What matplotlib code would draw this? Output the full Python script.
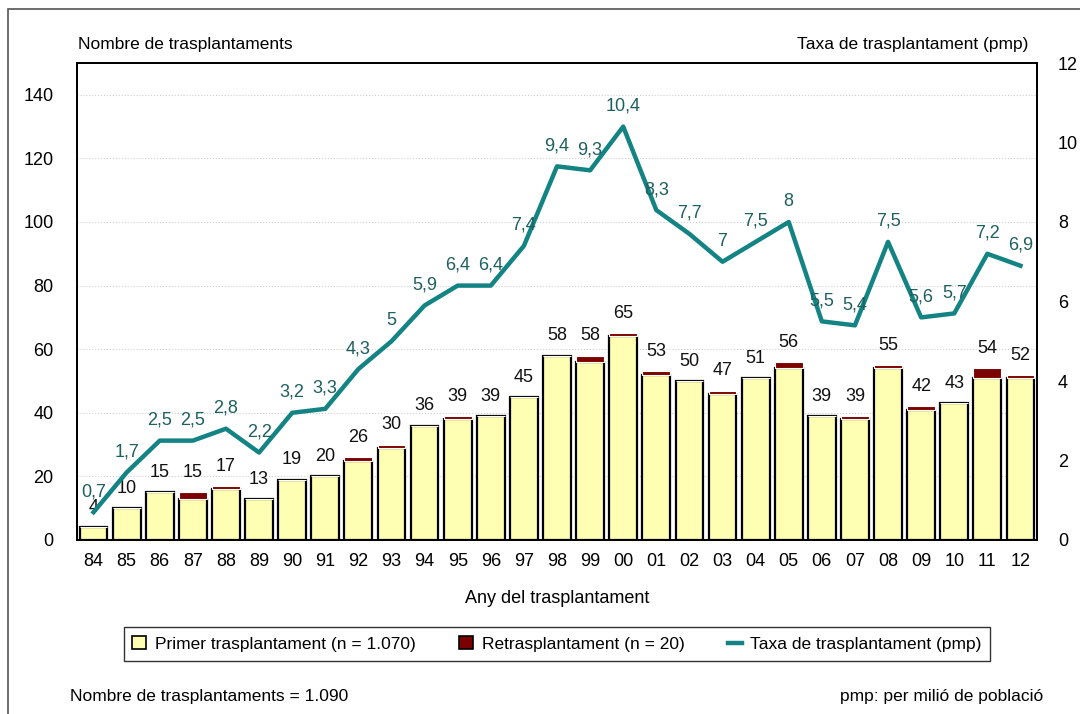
import matplotlib.pyplot as plt
import matplotlib.patches as mpatches
import matplotlib.lines as mlines
import numpy as np

plt.rcParams['font.family'] = ['Liberation Sans', 'DejaVu Sans']

years = ['84', '85', '86', '87', '88', '89', '90', '91', '92', '93', '94', '95', '96', '97',
         '98', '99', '00', '01', '02', '03', '04', '05', '06', '07', '08', '09', '10', '11', '12']
totals = [4, 10, 15, 15, 17, 13, 19, 20, 26, 30, 36, 39, 39, 45,
          58, 58, 65, 53, 50, 47, 51, 56, 39, 39, 55, 42, 43, 54, 52]
retrasplant = [0, 0, 0, 2, 1, 0, 0, 0, 1, 1, 0, 1, 0, 0,
               0, 2, 1, 1, 0, 1, 0, 2, 0, 1, 1, 1, 0, 3, 1]
taxa = [0.7, 1.7, 2.5, 2.5, 2.8, 2.2, 3.2, 3.3, 4.3, 5, 5.9, 6.4, 6.4, 7.4,
        9.4, 9.3, 10.4, 8.3, 7.7, 7, 7.5, 8, 5.5, 5.4, 7.5, 5.6, 5.7, 7.2, 6.9]
primer = [t - r for t, r in zip(totals, retrasplant)]

yellow = '#FFFFB3'
darkred = '#7B0000'
teal = '#138383'
tealtxt = '#1E5F5F'

fig = plt.figure(figsize=(10.8, 7.14), dpi=100)
ax = fig.add_axes([77 / 1080, 1 - 540 / 714, 960 / 1080, 477 / 714])
ax2 = ax.twinx()

x = np.arange(len(years))
ax.bar(x, primer, width=0.84, color=yellow, edgecolor='black', linewidth=1.6, zorder=2)
ax.bar(x, retrasplant, bottom=primer, width=0.84, color=darkred, edgecolor='white',
       linewidth=0.8, zorder=3)
for xi, t in zip(x, totals):
    ax.text(xi, t + 3.5, str(t), ha='center', va='bottom', fontsize=13, color='#111111', zorder=5)

ax.set_xlim(-0.5, len(years) - 0.5)
ax.set_ylim(0, 150)
ax.set_yticks(range(0, 141, 20))
ax.yaxis.grid(True, color='#d0d0d0', linestyle=':', linewidth=0.8)
ax.set_axisbelow(True)
ax.set_xticks(x)
ax.set_xticklabels(years)
ax.tick_params(axis='both', length=0, labelsize=13, pad=9)
ax.tick_params(axis='y', pad=17)
ax.set_xlabel('Any del trasplantament', fontsize=13, labelpad=15)

ax2.plot(x, taxa, color=teal, linewidth=3.2, zorder=4)
for xi, v in zip(x, taxa):
    lab = f'{v:g}'.replace('.', ',')
    ax2.text(xi, v + 0.3, lab, ha='center', va='bottom', fontsize=13, color=tealtxt, zorder=6)
ax2.set_ylim(0, 12)
ax2.set_yticks(range(0, 13, 2))
ax2.tick_params(axis='y', length=0, labelsize=13, pad=15)

for a in (ax, ax2):
    for s in a.spines.values():
        s.set_linewidth(1.3)
        s.set_color('black')

fig.text(78 / 1080, 1 - 44 / 714, 'Nombre de trasplantaments', fontsize=12.5, va='center', ha='left')
fig.text(1028 / 1080, 1 - 44 / 714, 'Taxa de trasplantament (pmp)', fontsize=12.5, va='center', ha='right')

handles = [mpatches.Patch(facecolor=yellow, edgecolor='black', linewidth=1.2),
           mpatches.Patch(facecolor=darkred, edgecolor='black', linewidth=1.2),
           mlines.Line2D([], [], color=teal, linewidth=3.2)]
labels = ['Primer trasplantament (n = 1.070)', 'Retrasplantament (n = 20)',
          'Taxa de trasplantament (pmp)']
leg = fig.legend(handles, labels, loc='center', bbox_to_anchor=(557 / 1080, 1 - 644 / 714),
                 ncol=3, fontsize=12.5, frameon=True, fancybox=False, edgecolor='black',
                 handlelength=0.8, handleheight=0.8, handletextpad=0.5, columnspacing=2.5,
                 borderpad=0.5)
leg.get_frame().set_linewidth(1.0)

fig.text(70 / 1080, 1 - 697 / 714, 'Nombre de trasplantaments = 1.090', fontsize=12.5, va='center', ha='left')
fig.text(1043 / 1080, 1 - 697 / 714, 'pmp: per milió de població', fontsize=12.5, va='center', ha='right')

fig.patches.append(mpatches.Rectangle((8 / 1080, -0.05), 1.2, 1 - 9 / 714 + 0.05,
                                      transform=fig.transFigure, fill=False,
                                      edgecolor='#555555', linewidth=1.2))

fig.savefig('out.png', dpi=100)
